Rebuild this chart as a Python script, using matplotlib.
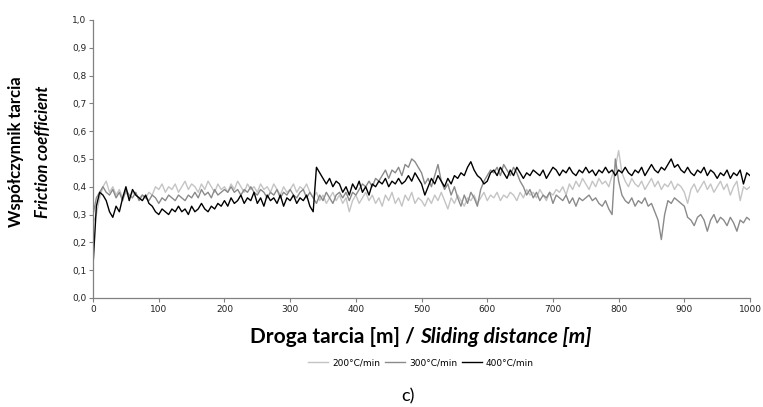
import numpy as np
import matplotlib.pyplot as plt
from matplotlib.ticker import FuncFormatter

# sliding distance every 5 m
distance = np.arange(0, 1001, 5)

# 200 C/min
mu_200 = [0.27, 0.30, 0.36, 0.40, 0.42, 0.38, 0.40, 0.37, 0.39, 0.36, 0.38,
          0.36, 0.38, 0.37, 0.36, 0.37, 0.36, 0.38, 0.37, 0.40, 0.39,
          0.41, 0.38, 0.40, 0.39, 0.41, 0.38, 0.40, 0.42, 0.39, 0.41,
          0.40, 0.38, 0.41, 0.39, 0.42, 0.40, 0.38, 0.41, 0.39, 0.40,
          0.38, 0.41, 0.39, 0.42, 0.40, 0.38, 0.41, 0.39, 0.40, 0.38,
          0.41, 0.39, 0.40, 0.38, 0.41, 0.39, 0.37, 0.40, 0.38, 0.39,
          0.41, 0.38, 0.40, 0.39, 0.41, 0.38, 0.36, 0.38, 0.35, 0.37,
          0.34, 0.36, 0.38, 0.35, 0.37, 0.34, 0.36, 0.31, 0.35, 0.37,
          0.34, 0.36, 0.38, 0.35, 0.37, 0.34, 0.36, 0.33, 0.37, 0.35,
          0.38, 0.34, 0.36, 0.33, 0.37, 0.35, 0.38, 0.34, 0.36, 0.35,
          0.33, 0.36, 0.34, 0.37, 0.35, 0.38, 0.35, 0.32, 0.36, 0.34,
          0.37, 0.35, 0.33, 0.36, 0.35, 0.37, 0.34, 0.36, 0.38, 0.35,
          0.37, 0.36, 0.38, 0.35, 0.37, 0.36, 0.38, 0.37, 0.35, 0.38,
          0.36, 0.39, 0.37, 0.38, 0.36, 0.39, 0.37, 0.35, 0.38, 0.37,
          0.39, 0.38, 0.40, 0.37, 0.41, 0.39, 0.42, 0.40, 0.43, 0.41,
          0.39, 0.42, 0.40, 0.43, 0.41, 0.42, 0.40, 0.44, 0.47, 0.53,
          0.45, 0.42, 0.40, 0.43, 0.41, 0.40, 0.42, 0.39, 0.41, 0.43,
          0.40, 0.42, 0.39, 0.41, 0.40, 0.42, 0.39, 0.41, 0.40, 0.38,
          0.34, 0.39, 0.41, 0.38, 0.40, 0.42, 0.39, 0.41, 0.38, 0.40,
          0.42, 0.39, 0.41, 0.37, 0.40, 0.42, 0.35, 0.40, 0.39, 0.40]

# 300 C/min
mu_300 = [0.30, 0.36, 0.38, 0.40, 0.38, 0.37, 0.39, 0.36, 0.38, 0.35, 0.39,
          0.37, 0.36, 0.38, 0.35, 0.37, 0.36, 0.35, 0.37, 0.36, 0.34,
          0.36, 0.35, 0.37, 0.36, 0.35, 0.37, 0.36, 0.35, 0.37, 0.36,
          0.38, 0.36, 0.39, 0.37, 0.38, 0.36, 0.39, 0.37, 0.38, 0.39,
          0.38, 0.40, 0.38, 0.39, 0.37, 0.39, 0.38, 0.40, 0.38, 0.37,
          0.39, 0.38, 0.36, 0.38, 0.37, 0.39, 0.36, 0.38, 0.37, 0.39,
          0.37, 0.36, 0.38, 0.39, 0.36, 0.38, 0.36, 0.34, 0.37, 0.35,
          0.38, 0.36, 0.34, 0.37, 0.38, 0.36, 0.38, 0.35, 0.38, 0.37,
          0.39, 0.41, 0.40, 0.42, 0.40, 0.43, 0.42, 0.44, 0.46, 0.43,
          0.46, 0.45, 0.47, 0.44, 0.48, 0.47, 0.50, 0.49, 0.47, 0.45,
          0.41, 0.43, 0.40, 0.44, 0.48, 0.42, 0.39, 0.41, 0.37, 0.40,
          0.36, 0.33, 0.37, 0.34, 0.38, 0.36, 0.33, 0.39, 0.42, 0.44,
          0.46, 0.45, 0.47, 0.44, 0.48, 0.46, 0.44, 0.47, 0.45, 0.42,
          0.40, 0.37, 0.39, 0.36, 0.38, 0.35, 0.37, 0.36, 0.38, 0.34,
          0.37, 0.36, 0.35, 0.37, 0.34, 0.36, 0.33, 0.36, 0.35, 0.36,
          0.37, 0.35, 0.36, 0.34, 0.33, 0.35, 0.32, 0.30, 0.50, 0.42,
          0.37, 0.35, 0.34, 0.36, 0.33, 0.35, 0.34, 0.36, 0.33, 0.34,
          0.31, 0.28, 0.21, 0.30, 0.35, 0.34, 0.36, 0.35, 0.34, 0.33,
          0.29, 0.28, 0.26, 0.29, 0.30, 0.28, 0.24, 0.28, 0.30, 0.27,
          0.29, 0.28, 0.26, 0.29, 0.27, 0.24, 0.28, 0.27, 0.29, 0.28]

# 400 C/min
mu_400 = [0.12, 0.33, 0.38, 0.37, 0.35, 0.31, 0.29, 0.33, 0.31, 0.36, 0.40,
          0.35, 0.39, 0.37, 0.36, 0.35, 0.37, 0.34, 0.33, 0.31, 0.30,
          0.32, 0.31, 0.30, 0.32, 0.31, 0.33, 0.31, 0.32, 0.30, 0.33,
          0.31, 0.32, 0.34, 0.32, 0.31, 0.33, 0.32, 0.34, 0.33, 0.35,
          0.33, 0.36, 0.34, 0.35, 0.37, 0.34, 0.36, 0.35, 0.38, 0.34,
          0.36, 0.33, 0.37, 0.35, 0.36, 0.34, 0.37, 0.33, 0.36, 0.35,
          0.37, 0.34, 0.36, 0.35, 0.37, 0.33, 0.31, 0.47, 0.45, 0.43,
          0.41, 0.43, 0.40, 0.42, 0.41, 0.38, 0.40, 0.37, 0.41, 0.39,
          0.42, 0.38, 0.40, 0.37, 0.41, 0.40, 0.42, 0.41, 0.43, 0.40,
          0.42, 0.41, 0.43, 0.41, 0.42, 0.44, 0.42, 0.45, 0.43, 0.41,
          0.37, 0.40, 0.43, 0.41, 0.44, 0.42, 0.40, 0.43, 0.41, 0.44,
          0.43, 0.45, 0.44, 0.47, 0.49, 0.46, 0.44, 0.43, 0.41, 0.42,
          0.45, 0.46, 0.44, 0.47, 0.45, 0.43, 0.46, 0.44, 0.47, 0.45,
          0.43, 0.45, 0.44, 0.46, 0.45, 0.44, 0.46, 0.43, 0.45, 0.47,
          0.46, 0.44, 0.46, 0.45, 0.47, 0.45, 0.44, 0.46, 0.45, 0.47,
          0.45, 0.46, 0.44, 0.46, 0.45, 0.47, 0.45, 0.46, 0.44, 0.46,
          0.45, 0.47, 0.45, 0.44, 0.46, 0.45, 0.47, 0.44, 0.46, 0.48,
          0.46, 0.45, 0.47, 0.46, 0.48, 0.50, 0.47, 0.48, 0.46, 0.45,
          0.47, 0.45, 0.44, 0.46, 0.45, 0.47, 0.44, 0.46, 0.45, 0.43,
          0.45, 0.44, 0.46, 0.43, 0.45, 0.44, 0.46, 0.41, 0.45, 0.44]

labels = ['200°C/min', '300°C/min', '400°C/min']
colors = ['#c4c4c4', '#8a8a8a', '#000000']

fig = plt.figure(figsize=(7.63, 4.07), dpi=100)
ax = fig.add_axes([0.122, 0.268, 0.861, 0.683])

for mu, lab, col in zip([mu_200, mu_300, mu_400], labels, colors):
    ax.plot(distance, mu, color=col, lw=1.0, label=lab)

ax.set_xlim(0, 1000)
ax.set_ylim(0, 1.0)
ax.set_xticks(np.arange(0, 1001, 100))
ax.set_yticks(np.arange(0, 1.01, 0.1))
ax.yaxis.set_major_formatter(FuncFormatter(lambda v, p: f'{v:.1f}'.replace('.', ',')))
ax.tick_params(labelsize=6.5, length=3, width=0.8, color='#808080', labelcolor='#222222',
               pad=2)
for s in ['top', 'right']:
    ax.spines[s].set_visible(False)
for s in ['left', 'bottom']:
    ax.spines[s].set_color('#808080')
    ax.spines[s].set_linewidth(0.9)

fnt = 'Lato'
# y label, two lines
fig.text(0.021, 0.627, 'Współczynnik tarcia', rotation=90, ha='center', va='center',
         fontsize=12, fontweight='bold', family=fnt)
fig.text(0.056, 0.627, 'Friction coefficient', rotation=90, ha='center', va='center',
         fontsize=12, fontweight='bold', style='italic', family=fnt)

# x label, bold part + bold italic part
fig.canvas.draw()
r = fig.canvas.get_renderer()
t1 = fig.text(0, 0.172, 'Droga tarcia [m] / ', ha='left', va='center', fontsize=15,
              fontweight='bold', family=fnt)
t2 = fig.text(0, 0.172, 'Sliding distance [m]', ha='left', va='center', fontsize=15,
              fontweight='bold', style='italic', family=fnt)
w1 = t1.get_window_extent(r).width / fig.bbox.width
w2 = t2.get_window_extent(r).width / fig.bbox.width
x0 = 0.552 - (w1 + w2) / 2
t1.set_x(x0)
t2.set_x(x0 + w1)

fig.legend(loc='center', bbox_to_anchor=(0.552, 0.108), ncol=3, frameon=False,
           fontsize=6.5, handlelength=2.2, handletextpad=0.4, columnspacing=0.6)

fig.text(0.535, 0.027, 'c)', ha='center', va='center', fontsize=13, family=fnt)

fig.savefig('out.png', dpi=100)
